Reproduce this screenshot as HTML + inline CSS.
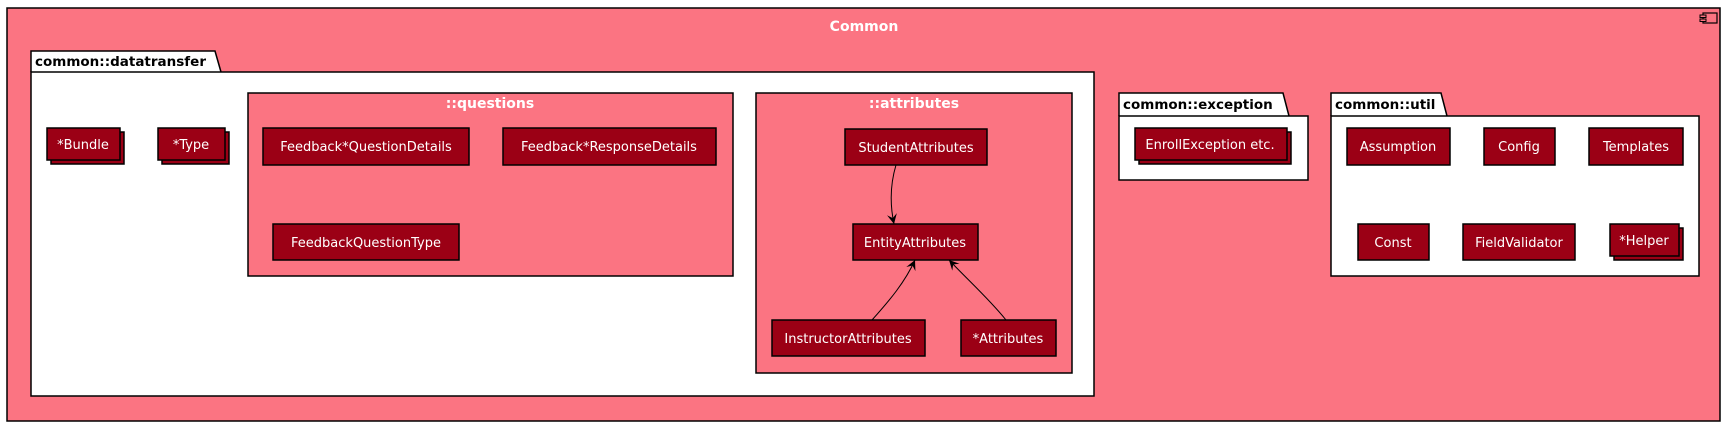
<!DOCTYPE html>
<html><head><meta charset="utf-8"><style>
html,body{margin:0;padding:0;background:#fff;}
svg{display:block;}
text{font-family:"DejaVu Sans","Liberation Sans",sans-serif;}
.b{fill:#9B0015;stroke:#000;stroke-width:1.5;}
.t{fill:#fff;font-size:13px;text-anchor:middle;}
.pk{fill:#FB7482;stroke:#000;stroke-width:1.5;}
.wh{fill:#fff;stroke:#000;stroke-width:1.5;}
.h{fill:#000;font-size:13.5px;font-weight:bold;}
.hw{fill:#fff;font-size:14px;font-weight:bold;text-anchor:middle;}
</style></head><body>
<svg width="1732" height="430" viewBox="0 0 1732 430" xmlns="http://www.w3.org/2000/svg">
<defs>
<marker id="ar" markerWidth="12" markerHeight="12" refX="10" refY="6" orient="auto" markerUnits="userSpaceOnUse">
<path d="M0,1 L10,6 L0,11 L4,6 Z" fill="#000"/>
</marker>
</defs>
<rect x="7" y="8" width="1713" height="413" class="pk"/>
<text x="864" y="31" class="hw">Common</text>
<rect x="1703" y="13" width="14" height="10" fill="none" stroke="#000" stroke-width="1.2"/>
<rect x="1700" y="15" width="6" height="2.5" fill="#FB7482" stroke="#000" stroke-width="1"/>
<rect x="1700" y="19" width="6" height="2.5" fill="#FB7482" stroke="#000" stroke-width="1"/>

<!-- datatransfer -->
<path d="M31,72 L31,51 L215,51 L221,72" class="wh"/>
<rect x="31" y="72" width="1063" height="324" class="wh"/>
<text x="35" y="66" class="h">common::datatransfer</text>

<rect x="51" y="132" width="73" height="32" class="b"/>
<rect x="47" y="128" width="73" height="32" class="b"/>
<text x="83" y="149" class="t">*Bundle</text>
<rect x="162" y="132" width="67" height="32" class="b"/>
<rect x="158" y="128" width="67" height="32" class="b"/>
<text x="191" y="149" class="t">*Type</text>

<rect x="248" y="93" width="485" height="183" class="pk"/>
<text x="490" y="108" class="hw">::questions</text>
<rect x="263" y="128" width="206" height="37" class="b"/>
<text x="366" y="151" class="t">Feedback*QuestionDetails</text>
<rect x="503" y="128" width="213" height="37" class="b"/>
<text x="609" y="151" class="t">Feedback*ResponseDetails</text>
<rect x="273" y="224" width="186" height="36" class="b"/>
<text x="366" y="247" class="t">FeedbackQuestionType</text>

<rect x="756" y="93" width="316" height="280" class="pk"/>
<text x="914" y="108" class="hw">::attributes</text>
<rect x="845" y="129" width="142" height="36" class="b"/>
<text x="916" y="152" class="t">StudentAttributes</text>
<rect x="853" y="224" width="125" height="36" class="b"/>
<text x="915" y="247" class="t">EntityAttributes</text>
<rect x="772" y="320" width="153" height="36" class="b"/>
<text x="848" y="343" class="t">InstructorAttributes</text>
<rect x="961" y="320" width="95" height="36" class="b"/>
<text x="1008" y="343" class="t">*Attributes</text>
<path d="M896,165 C890,185 890,205 894,224" fill="none" stroke="#000" stroke-width="1" marker-end="url(#ar)"/>
<path d="M872,320 C890,300 905,282 915,260" fill="none" stroke="#000" stroke-width="1" marker-end="url(#ar)"/>
<path d="M1006,320 C990,300 970,282 949,260" fill="none" stroke="#000" stroke-width="1" marker-end="url(#ar)"/>

<!-- exception -->
<path d="M1119,116 L1119,93 L1283,93 L1289,116" class="wh"/>
<rect x="1119" y="116" width="189" height="64" class="wh"/>
<text x="1123" y="109" class="h">common::exception</text>
<rect x="1139" y="132" width="152" height="32" class="b"/>
<rect x="1135" y="128" width="152" height="32" class="b"/>
<text x="1210" y="149" class="t">EnrollException etc.</text>

<!-- util -->
<path d="M1331,116 L1331,93 L1441,93 L1447,116" class="wh"/>
<rect x="1331" y="116" width="368" height="160" class="wh"/>
<text x="1335" y="109" class="h">common::util</text>
<rect x="1347" y="128" width="103" height="37" class="b"/>
<text x="1398" y="151" class="t">Assumption</text>
<rect x="1484" y="128" width="71" height="37" class="b"/>
<text x="1519" y="151" class="t">Config</text>
<rect x="1589" y="128" width="94" height="37" class="b"/>
<text x="1636" y="151" class="t">Templates</text>
<rect x="1358" y="224" width="71" height="36" class="b"/>
<text x="1393" y="247" class="t">Const</text>
<rect x="1463" y="224" width="112" height="36" class="b"/>
<text x="1519" y="247" class="t">FieldValidator</text>
<rect x="1614" y="228" width="69" height="32" class="b"/>
<rect x="1610" y="224" width="69" height="32" class="b"/>
<text x="1644" y="245" class="t">*Helper</text>
</svg>
</body></html>
